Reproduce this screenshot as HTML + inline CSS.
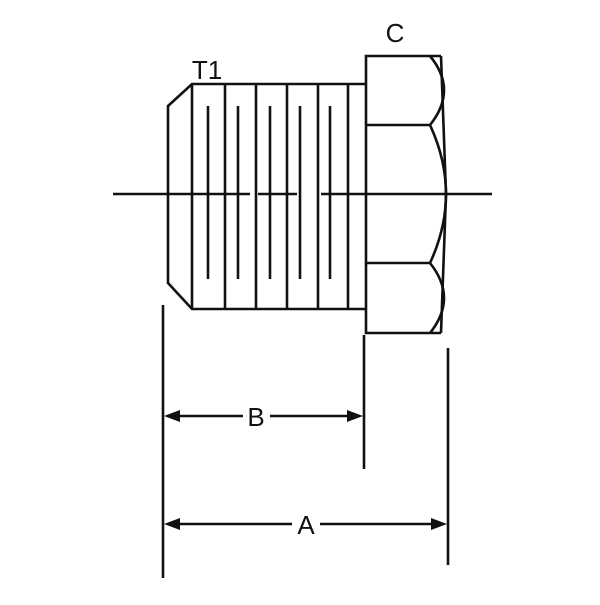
<!DOCTYPE html>
<html><head><style>body{margin:0;background:#fff}</style></head><body>
<svg width="600" height="600" viewBox="0 0 600 600" xmlns="http://www.w3.org/2000/svg">
<g fill="none" stroke="#111" stroke-width="2.6" stroke-linejoin="miter">
<path d="M366,84 L192,84 L168,106 L168,283 L192,309 L366,309"/>
<line x1="192" y1="84" x2="192" y2="309"/>
<line x1="225" y1="84" x2="225" y2="309"/>
<line x1="256" y1="84" x2="256" y2="309"/>
<line x1="287" y1="84" x2="287" y2="309"/>
<line x1="318" y1="84" x2="318" y2="309"/>
<line x1="348" y1="84" x2="348" y2="309"/>
<line x1="208" y1="106" x2="208" y2="279"/>
<line x1="238" y1="106" x2="238" y2="279"/>
<line x1="270" y1="106" x2="270" y2="279"/>
<line x1="300" y1="106" x2="300" y2="279"/>
<line x1="330" y1="106" x2="330" y2="279"/>
<path d="M441,56 L366,56 L366,333 L441,333"/>
<line x1="366" y1="125" x2="430" y2="125"/>
<line x1="366" y1="263" x2="430" y2="263"/>
<path d="M430,56 Q458,90 430,125 Q462,194 430,263 Q458,298 430,333"/>
<path d="M441,56 L446,194 L441,333"/>
<line x1="113" y1="194" x2="250" y2="194"/>
<line x1="258" y1="194" x2="297" y2="194"/>
<line x1="321" y1="194" x2="492" y2="194"/>
<line x1="163" y1="305" x2="163" y2="578"/>
<line x1="364" y1="335" x2="364" y2="469"/>
<line x1="448" y1="348" x2="448" y2="565"/>
<line x1="175" y1="416" x2="243" y2="416"/>
<line x1="270" y1="416" x2="352" y2="416"/>
<line x1="175" y1="524" x2="292" y2="524"/>
<line x1="320" y1="524" x2="436" y2="524"/>
</g>
<g fill="#111">
<polygon points="164,416 180,410 180,422"/>
<polygon points="363,416 347,410 347,422"/>
<polygon points="164,524 180,518 180,530"/>
<polygon points="447,524 431,518 431,530"/>
</g>
<g font-family="Liberation Sans, sans-serif" font-size="26" fill="#111" text-anchor="middle">
<text x="207" y="79">T1</text>
<text x="395" y="42">C</text>
<text x="256" y="426">B</text>
<text x="306" y="534">A</text>
</g>
</svg>
</body></html>
